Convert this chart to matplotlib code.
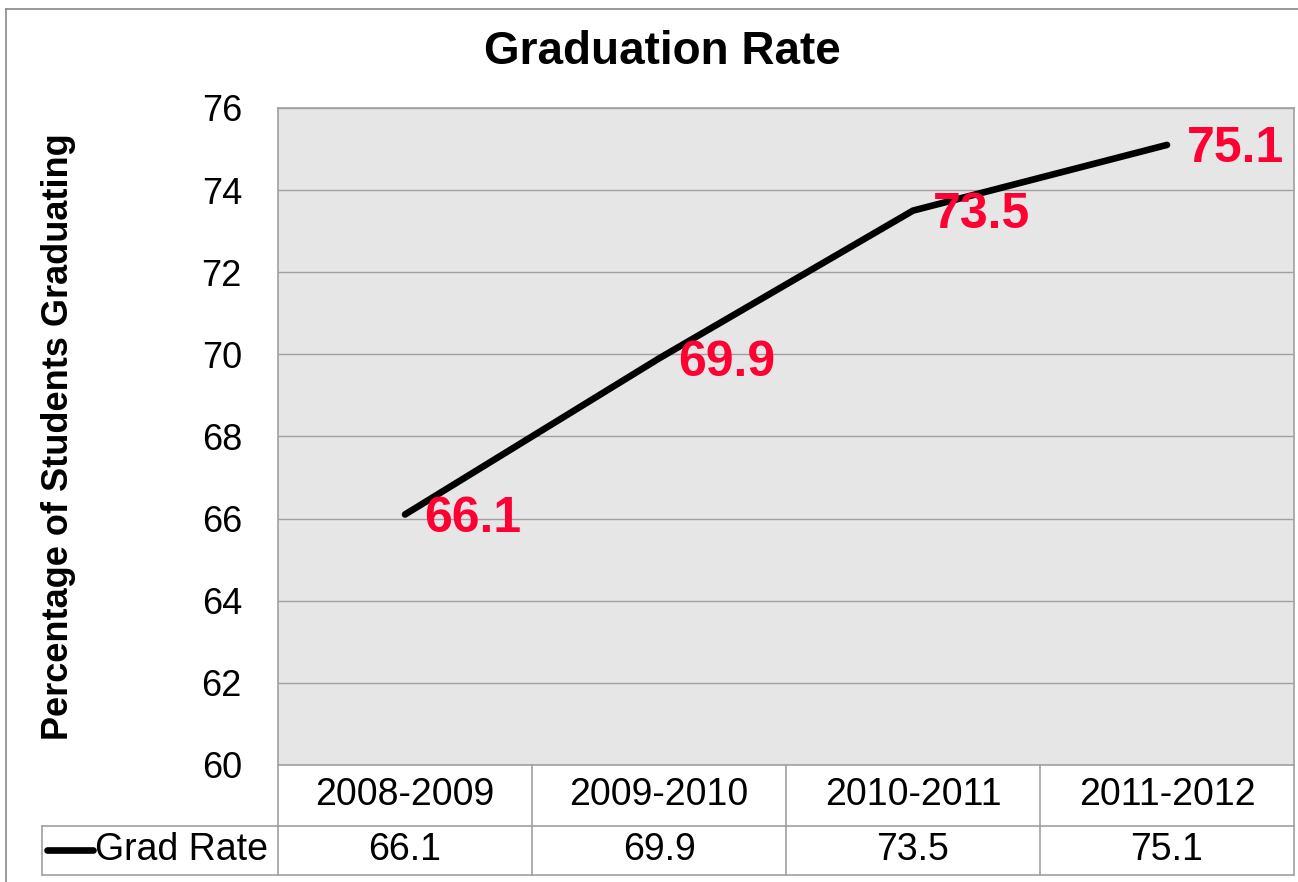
import matplotlib
matplotlib.use("Agg")
import matplotlib.pyplot as plt
from matplotlib.lines import Line2D

years = ["2008-2009", "2009-2010", "2010-2011", "2011-2012"]
grad_rate = [66.1, 69.9, 73.5, 75.1]
y_ticks = [60, 62, 64, 66, 68, 70, 72, 74, 76]

plt.rcParams['font.family'] = ['Liberation Sans', 'DejaVu Sans']

fig = plt.figure(figsize=(12.98, 8.82), dpi=100)
ax = fig.add_axes([0.2142, 0.1327, 0.7827, 0.7449])
ax.set_facecolor('#e6e6e6')

xs = [i + 0.5 for i in range(len(years))]
ax.plot(xs, grad_rate, color='black', linewidth=4.8, solid_capstyle='round')
for x, v in zip(xs, grad_rate):
    ax.annotate(f"{v:.1f}", (x, v), xytext=(14, -3), textcoords='offset points',
                ha='left', va='center', color='#ff0033', fontsize=36,
                fontweight='bold')

ax.set_xlim(0, len(years))
ax.set_ylim(60, 76)
ax.set_yticks(y_ticks)
ax.set_yticklabels([str(t) for t in y_ticks], fontsize=26)
ax.tick_params(axis='y', length=0, pad=26)
ax.set_xticks([])
ax.grid(axis='y', color='#a0a0a0', linewidth=1)
ax.set_axisbelow(True)
for s in ax.spines.values():
    s.set_color('#a0a0a0')
    s.set_linewidth(1.2)

# data table under the plot
tr = ax.get_xaxis_transform()
row1 = -0.0928
row2 = -0.1674
key_left = -0.929
gc = '#a0a0a0'
for b in range(len(years) + 1):
    ax.add_line(Line2D([b, b], [0, row2], transform=tr, color=gc, lw=1.2, clip_on=False))
ax.add_line(Line2D([key_left, len(years)], [row1, row1], transform=tr, color=gc, lw=1.2, clip_on=False))
ax.add_line(Line2D([key_left, len(years)], [row2, row2], transform=tr, color=gc, lw=1.2, clip_on=False))
ax.add_line(Line2D([key_left, key_left], [row1, row2], transform=tr, color=gc, lw=1.2, clip_on=False))

for x, yr, v in zip(xs, years, grad_rate):
    ax.text(x, row1 / 2, yr, transform=tr, ha='center', va='center', fontsize=27, clip_on=False)
    ax.text(x, (row1 + row2) / 2, f"{v:.1f}", transform=tr, ha='center', va='center', fontsize=27, clip_on=False)

# legend key inside the table
ymid = (row1 + row2) / 2
ax.add_line(Line2D([key_left + 0.02, key_left + 0.2], [ymid, ymid], transform=tr,
                   color='black', lw=4.8, solid_capstyle='round', clip_on=False))
ax.text(key_left + 0.21, ymid, "Grad Rate", transform=tr, ha='left', va='center',
        fontsize=27, clip_on=False)

fig.text(0.51, 0.9415, "Graduation Rate", ha='center', va='center', fontsize=33, fontweight='bold')
fig.text(0.0447, 0.5045, "Percentage of Students Graduating", ha='center', va='center',
         rotation=90, fontsize=26, fontweight='bold')

# outer chart frame
fig.add_artist(Line2D([6/1298, 6/1298], [0, 1 - 9/882], transform=fig.transFigure, color='#888888', lw=1.2))
fig.add_artist(Line2D([6/1298, 1], [1 - 9/882, 1 - 9/882], transform=fig.transFigure, color='#888888', lw=1.2))

fig.savefig('out.png', dpi=100)
